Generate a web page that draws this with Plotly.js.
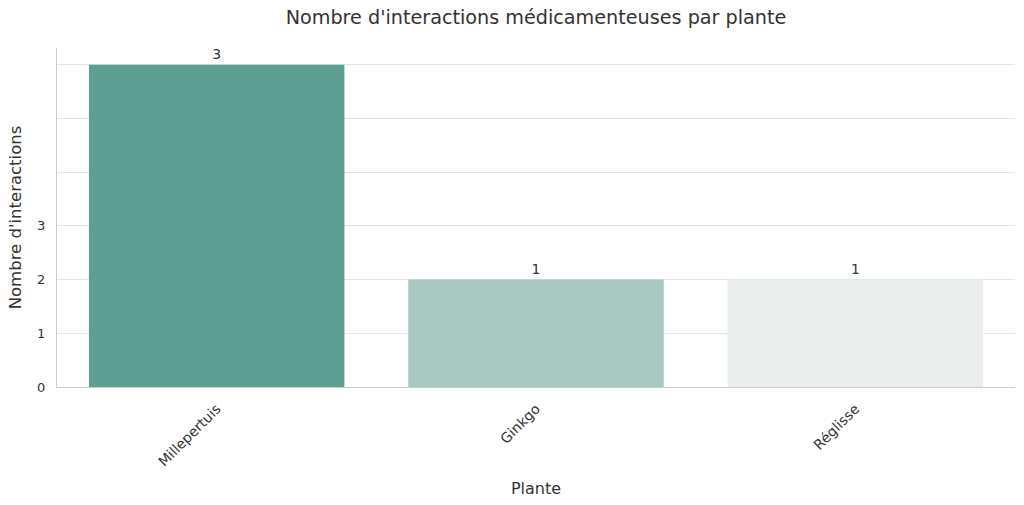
<!DOCTYPE html>
<html>
<head>
<meta charset="utf-8">
<script src="https://cdn.plot.ly/plotly-3.0.1.min.js"></script>
<style>
  html, body { margin: 0; padding: 0; background: #fff; }
  #chart { width: 1024px; height: 505px; }
</style>
</head>
<body>
<div id="chart"></div>
<script>
// plant categories, bar heights as drawn, and the labels printed above them
var plantes = ['Millepertuis', 'Ginkgo', 'Réglisse'];
var hauteurs = [6, 2, 2];
var etiquettes = ['3', '1', '1'];
var couleurs = ['#5f9f93', '#a7c9c2', '#eaefee'];

var yTickVals = [0, 1, 2, 3, 4, 5, 6];
var yTickText = ['0', '1', '2', '3', '', '', ''];

var trace = {
    x: plantes,
    y: hauteurs,
    type: 'bar',
    width: 0.8,
    text: etiquettes,
    textposition: 'outside',
    textfont: { family: 'DejaVu Sans', size: 14, color: '#333333' },
    cliponaxis: false,
    marker: { color: couleurs, line: { width: 0 } },
    hoverinfo: 'x+y'
};

var layout = {
    width: 1024,
    height: 505,
    paper_bgcolor: '#ffffff',
    plot_bgcolor: '#ffffff',
    font: { family: 'DejaVu Sans', color: '#333333' },
    margin: { t: 48, r: 9, b: 118, l: 57 },
    showlegend: false,
    bargap: 0.2,
    title: {
        text: "Nombre d'interactions médicamenteuses par plante",
        font: { family: 'DejaVu Sans', size: 19.2, color: '#333333' },
        xref: 'paper',
        x: 0.5,
        xanchor: 'center',
        y: 0.965,
        yanchor: 'middle'
    },
    xaxis: {
        title: { text: 'Plante', font: { size: 16, color: '#333333' }, standoff: 14 },
        range: [-0.5, 2.5],
        tickangle: -45,
        tickfont: { size: 14, color: '#333333' },
        ticklabelstandoff: 7,
        showline: true,
        linecolor: '#cccccc',
        linewidth: 1.2,
        showgrid: false,
        ticks: '',
        zeroline: false
    },
    yaxis: {
        title: { text: "Nombre d'interactions", font: { size: 16.5, color: '#333333' }, standoff: 11 },
        range: [0, 6.31],
        tickvals: yTickVals,
        ticktext: yTickText,
        tickfont: { size: 13, color: '#333333' },
        ticklabelstandoff: 8,
        showline: true,
        linecolor: '#cccccc',
        linewidth: 1.2,
        showgrid: true,
        gridcolor: '#e3e3e3',
        gridwidth: 1,
        zeroline: false,
        ticks: '',
        ticklen: 0
    }
};

Plotly.newPlot('chart', [trace], layout, { displayModeBar: false, staticPlot: true });
</script>
</body>
</html>
